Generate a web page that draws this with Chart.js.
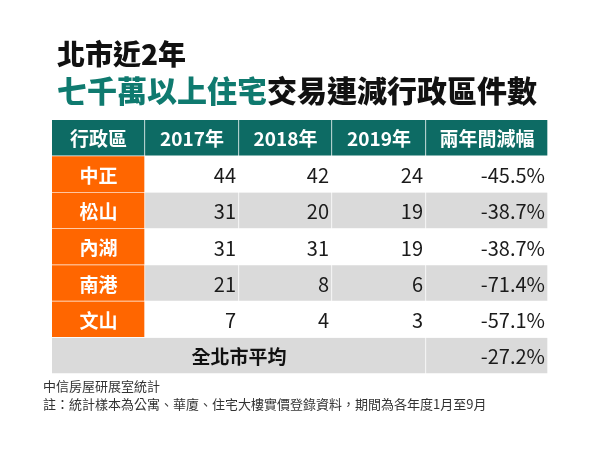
<!DOCTYPE html>
<html>
<head>
<meta charset="utf-8">
<script src="https://cdn.jsdelivr.net/npm/chart.js@4/dist/chart.umd.min.js"></script>
<style>
  body { margin: 0; background: #fff; font-family: 'Noto Sans CJK TC', 'Noto Sans', sans-serif; }
  #wrap { position: relative; width: 600px; height: 450px; }
  #chart { position: absolute; left: 0; top: 0; }
  .t1, .t2, .note { position: absolute; left: 57px; white-space: nowrap; font-weight: 900; color: #111; }
  .t1 { top: 39px; font-size: 28px; line-height: 28px; }
  .t2 { top: 74px; font-size: 30px; line-height: 30px; }
  .t2 .hl { color: #0f7a6f; }
  .note { left: 43px; font-size: 13px; line-height: 13px; font-weight: 400; color: #333; }
</style>
</head>
<body>
<div id="wrap">
  <canvas id="chart" width="600" height="450"></canvas>
  <div class="t1">北市近2年</div>
  <div class="t2"><span class="hl">七千萬以上住宅</span>交易連減行政區件數</div>
  <div class="note" style="top:379px">中信房屋研展室統計</div>
  <div class="note" style="top:397px">註：統計樣本為公寓、華廈、住宅大樓實價登錄資料，期間為各年度1月至9月</div>
</div>
<script>
// table data
const headerLabels = ['行政區', '2017年', '2018年', '2019年', '兩年間減幅'];
const districts = ['中正', '松山', '內湖', '南港', '文山'];
const counts2017 = [44, 31, 31, 21, 7];
const counts2018 = [42, 20, 31, 8, 4];
const counts2019 = [24, 19, 19, 6, 3];
const declines = [-45.5, -38.7, -38.7, -71.4, -57.1];
const averageLabel = '全北市平均';
const averageDecline = -27.2;

// column edges on the x scale (1 unit = 1px)
const colEdges = [0, 93, 187, 280, 374, 496];

const TEAL = '#0d6b64';
const ORANGE = '#ff6600';
const GRAY = '#dadada';

const rowKeys = ['header', ...districts, averageLabel];
const lastRow = rowKeys.length - 1;

function cellRange(col, row) {
    if (row === lastRow) {
        if (col === 0) return [colEdges[0], colEdges[4]];
        if (col === 4) return [colEdges[4], colEdges[5]];
        return null;
    }
    return [colEdges[col], colEdges[col + 1]];
}

function cellColor(col, row) {
    if (row === 0) return TEAL;
    if (row === lastRow) return GRAY;
    if (col === 0) return ORANGE;
    return row % 2 === 0 ? GRAY : '#ffffff';
}

const datasets = headerLabels.map((h, col) => ({
    label: h,
    data: rowKeys.map((k, row) => cellRange(col, row)),
    backgroundColor: rowKeys.map((k, row) => cellColor(col, row)),
    borderColor: '#ffffff',
    borderWidth: { top: 0, left: 0, right: 1, bottom: 1 },
    borderSkipped: false,
    grouped: false,
    barPercentage: 1,
    categoryPercentage: 1
}));

function cellText(col, row) {
    if (row === 0) return headerLabels[col];
    if (row === lastRow) return col === 0 ? averageLabel : (col === 4 ? averageDecline.toFixed(1) + '%' : '');
    const i = row - 1;
    switch (col) {
        case 0: return districts[i];
        case 1: return String(counts2017[i]);
        case 2: return String(counts2018[i]);
        case 3: return String(counts2019[i]);
        default: return declines[i].toFixed(1) + '%';
    }
}

const cellLabels = {
    id: 'cellLabels',
    afterDatasetsDraw(chart) {
        const { ctx, scales: { x, y } } = chart;
        ctx.save();
        ctx.textBaseline = 'middle';
        rowKeys.forEach((k, row) => {
            const cy = y.getPixelForValue(row) + 1;
            headerLabels.forEach((h, col) => {
                const range = cellRange(col, row);
                if (!range) return;
                const text = cellText(col, row);
                const left = x.getPixelForValue(range[0]);
                const right = x.getPixelForValue(range[1]);
                if (row === 0) {
                    ctx.font = '700 19px "Noto Sans CJK TC"';
                    ctx.fillStyle = '#ffffff';
                    ctx.textAlign = 'center';
                    ctx.fillText(text, (left + right) / 2, cy);
                } else if (col === 0) {
                    ctx.font = '700 19px "Noto Sans CJK TC"';
                    ctx.fillStyle = row === lastRow ? '#111111' : '#ffffff';
                    ctx.textAlign = 'center';
                    ctx.fillText(text, (left + right) / 2, cy);
                } else {
                    ctx.font = '400 20px "Noto Sans CJK TC"';
                    ctx.fillStyle = '#1a1a1a';
                    ctx.textAlign = 'right';
                    ctx.fillText(text, right - 3, cy);
                }
            });
        });
        ctx.restore();
    }
};

new Chart(document.getElementById('chart'), {
    type: 'bar',
    data: { labels: rowKeys, datasets: datasets },
    options: {
        indexAxis: 'y',
        responsive: false,
        animation: false,
        events: [],
        layout: { padding: { left: 52, right: 52, top: 120, bottom: 76 } },
        scales: {
            x: { type: 'linear', min: colEdges[0], max: colEdges[colEdges.length - 1], display: false },
            y: { type: 'category', display: false, offset: true }
        },
        plugins: { legend: { display: false }, tooltip: { enabled: false } }
    },
    plugins: [cellLabels]
});
</script>
</body>
</html>
